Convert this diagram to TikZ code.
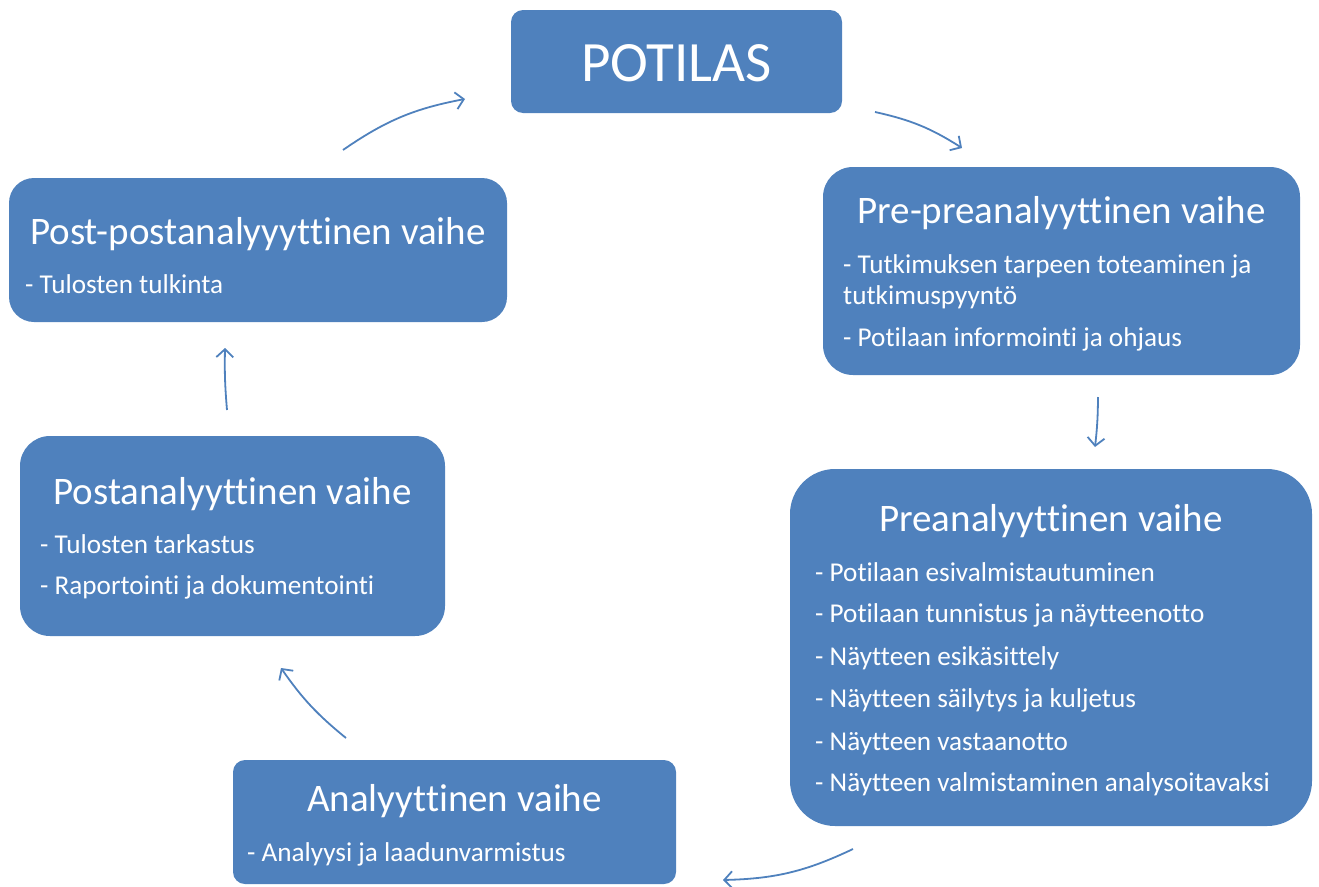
\documentclass[tikz,border=0pt]{standalone}
\usepackage{fontspec}
\setmainfont{Carlito}[Ligatures=CommonOff]
\usetikzlibrary{arrows.meta}
\definecolor{obl}{HTML}{4F81BD}
\tikzset{
  box/.style={fill=obl, draw=none, inner sep=0pt},
  ttl/.style={text=white, inner sep=0pt, anchor=base, font=\fontsize{39}{41}\selectfont},
  itm/.style={text=white, inner sep=0pt, anchor=base west, font=\fontsize{27.2}{29}\selectfont},
  flow/.style={draw=obl, line width=1.8pt, -{Straight Barb[length=8pt,width=17pt,line width=1.8pt]}}
}
\begin{document}
\begin{tikzpicture}[x=1pt,y=-1pt]
\useasboundingbox (0,0) rectangle (1319,886);
% boxes
\node[box, rounded corners=12pt, minimum width=331pt, minimum height=103pt] (pot) at (676.5,61.5) {};
\node[box, rounded corners=30pt, minimum width=477pt, minimum height=208pt] (pp) at (1061.5,271) {};
\node[box, rounded corners=45pt, minimum width=522pt, minimum height=357pt] (pre) at (1051,647.5) {};
\node[box, rounded corners=12pt, minimum width=443pt, minimum height=124pt] (ana) at (454.5,822) {};
\node[box, rounded corners=30pt, minimum width=425pt, minimum height=200pt] (post) at (232.5,536) {};
\node[box, rounded corners=25pt, minimum width=498pt, minimum height=144pt] (ppost) at (258,250) {};
% texts
\node[ttl, font=\fontsize{57}{60}\selectfont] (potT) at (676.5,81) {POTILAS};

\node[ttl] (ppT) at (1061.5,223) {Pre-preanalyyttinen vaihe};
\node[itm] (pp1) at (843,273) {- Tutkimuksen tarpeen toteaminen ja};
\node[itm] (pp1b) at (843,304) {tutkimuspyyntö};
\node[itm] (pp2) at (843,346) {- Potilaan informointi ja ohjaus};

\node[ttl] (preT) at (1051,531) {Preanalyyttinen vaihe};
\node[itm] (pre1) at (815,581) {- Potilaan esivalmistautuminen};
\node[itm] (pre2) at (815,622) {- Potilaan tunnistus ja näytteenotto};
\node[itm] (pre3) at (815,665) {- Näytteen esikäsittely};
\node[itm] (pre4) at (815,707) {- Näytteen säilytys ja kuljetus};
\node[itm] (pre5) at (815,750) {- Näytteen vastaanotto};
\node[itm] (pre6) at (815,791) {- Näytteen valmistaminen analysoitavaksi};

\node[ttl] (anaT) at (454.5,811) {Analyyttinen vaihe};
\node[itm] (ana1) at (247,861) {- Analyysi ja laadunvarmistus};

\node[ttl] (postT) at (232.5,504) {Postanalyyttinen vaihe};
\node[itm] (post1) at (40,553) {- Tulosten tarkastus};
\node[itm] (post2) at (40,594) {- Raportointi ja dokumentointi};

\node[ttl] (ppostT) at (258,244) {Post-postanalyyyttinen vaihe};
\node[itm] (ppost1) at (25,293) {- Tulosten tulkinta};
% arrow end points
\coordinate (a1s) at (343,150); \coordinate (a1e) at (465,99);
\coordinate (a2s) at (875,112); \coordinate (a2e) at (962,148);
\coordinate (a3s) at (1098,397); \coordinate (a3e) at (1095,447);
\coordinate (a4s) at (853,849); \coordinate (a4e) at (723,880);
\coordinate (a5s) at (346,738); \coordinate (a5e) at (281,668);
\coordinate (a6s) at (227,410); \coordinate (a6e) at (225,348);
\draw[flow] (a1s) to[bend left=12] (a1e);
\draw[flow] (a2s) to[bend left=10] (a2e);
\draw[flow] (a3s) to[bend left=3] (a3e);
\draw[flow] (a4s) to[bend left=12] (a4e);
\draw[flow] (a5s) to[bend left=8] (a5e);
\draw[flow] (a6s) to[bend left=3] (a6e);
\end{tikzpicture}
\end{document}
